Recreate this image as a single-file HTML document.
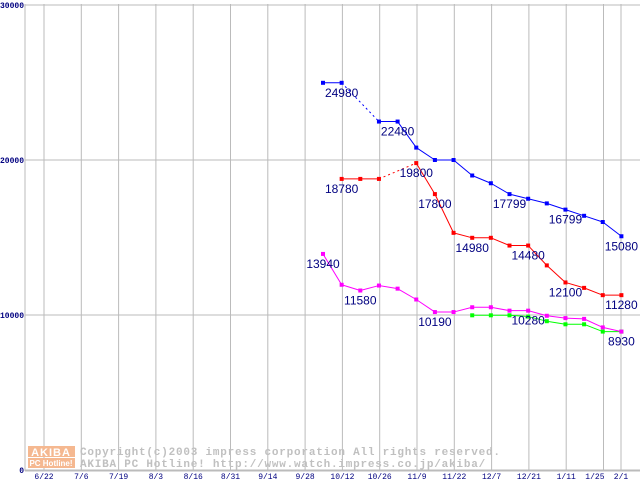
<!DOCTYPE html>
<html><head><meta charset="utf-8"><style>
body{margin:0;background:#fff;width:640px;height:480px;overflow:hidden}
svg{display:block}
</style></head><body>
<svg id="chart" width="640" height="480" xmlns="http://www.w3.org/2000/svg" font-family="'Liberation Mono', monospace">
<g id="grid"></g>
<g id="logo">
<rect x="28" y="446" width="47" height="11" fill="#f5b890"/>
<text x="51" y="456" font-size="11" fill="#fff" text-anchor="middle" font-family="'Liberation Sans',sans-serif" font-weight="bold" letter-spacing="1">AKIBA</text>
<rect x="28" y="458" width="47" height="10" fill="#f5b890"/>
<text x="51" y="466" font-size="8" fill="#fff" text-anchor="middle" font-family="'Liberation Sans',sans-serif" font-weight="bold">PC Hotline!</text>
</g>
<text x="80" y="455" font-size="11" fill="#c0c0c0" font-weight="bold" letter-spacing="0.78">Copyright(c)2003 impress corporation All rights reserved.</text>
<text x="80" y="467" font-size="11" fill="#c0c0c0" font-weight="bold" letter-spacing="0.78">AKIBA PC Hotline!  http://www.watch.impress.co.jp/akiba/</text>
<g id="axes"></g>
<g id="series"></g>
</svg>
<script>
const xLabels=["6/22","7/6","7/19","8/3","8/16","8/31","9/14","9/28","10/12","10/26","11/9","11/22","12/7","12/21","1/11","1/25","2/1"];
const yTicks=[0,10000,20000,30000];
const blue=[24980,24980,null,22480,22480,20800,20000,20000,19000,18500,17799,17500,17200,16799,16400,16000,15080];
const red=[null,18780,18780,18780,null,19800,17800,15300,14980,14980,14480,14480,13200,12100,11750,11280,11280];
const magenta=[13940,11950,11580,11900,11700,11000,10190,10190,10500,10500,10280,10280,9950,9800,9750,9200,8930];
const green=[null,null,null,null,null,null,null,null,9980,9980,9980,9900,9600,9400,9400,8930,8930];
const labels=[["blue",1,"24980"],["blue",4,"22480"],["red",5,"19800"],["red",1,"18780"],["red",6,"17800"],["red",8,"14980"],["blue",10,"17799"],["blue",13,"16799"],["blue",16,"15080"],["red",11,"14480"],["red",13,"12100"],["red",16,"11280"],["magenta",0,"13940"],["magenta",2,"11580"],["magenta",6,"10190"],["magenta",11,"10280"],["green",16,"8930"]];
const NS="http://www.w3.org/2000/svg";
const X0=323,DX=18.65;
function xs(i){return X0+DX*i;}
function ys(v){return 470-v*0.0155;}
function mk(tag,at,parent){const e=document.createElementNS(NS,tag);for(const k in at)e.setAttribute(k,at[k]);parent.appendChild(e);return e;}
const grid=document.getElementById('grid'),axes=document.getElementById('axes'),ser=document.getElementById('series');
yTicks.forEach(v=>{const l=mk('line',{x1:25,x2:640,y1:ys(v),y2:ys(v),stroke:'#bbb','stroke-width':1},grid);


const t=mk('text',{x:24,y:ys(v)+3,'font-size':8,fill:'#000080','text-anchor':'end','font-weight':'bold'},axes);t.textContent=v;

});
for(let k=0;k<17;k++){const gx=k<16?44+37.3*k:621;
const l=mk('line',{x1:gx,x2:gx,y1:4,y2:471,stroke:'#bbb','stroke-width':1},grid);


const t=mk('text',{x:gx-(k==15?-1:0),y:479,'font-size':8,fill:'#000080','text-anchor':k==15?'end':'middle'},axes);t.textContent=xLabels[k];

}
const ax=mk('line',{x1:25,x2:25,y1:4,y2:471,stroke:'#bbb'},axes);


const bx=mk('line',{x1:25,x2:640,y1:471,y2:471,stroke:'#bbb'},axes);


const S={blue:[blue,'#0000ff'],red:[red,'#ff0000'],magenta:[magenta,'#ff00ff'],green:[green,'#00ff00']};
function draw(name,arr,col){
 const g=mk('g',{},ser);
 
 
 let prev=-1;
 for(let i=0;i<arr.length;i++){if(arr[i]==null)continue;
  if(prev>=0){const dashed=i-prev>1;
   const l=mk('line',{x1:xs(prev),y1:ys(arr[prev]),x2:xs(i),y2:ys(arr[i]),stroke:col,'stroke-width':1,'stroke-dasharray':dashed?'2,3':'none'},g);
   
   }
  prev=i;}
 for(let i=0;i<arr.length;i++){if(arr[i]==null)continue;
  const r=mk('rect',{x:xs(i)-2,y:ys(arr[i])-2,width:4,height:4,fill:col},g);
  
  }
}
draw('green',green,'#00ff00');draw('magenta',magenta,'#ff00ff');draw('red',red,'#ff0000');draw('blue',blue,'#0000ff');
labels.forEach(([s,i,txt])=>{const v=S[s][0][i];
 const t=mk('text',{x:xs(i),y:ys(v)+14,'font-size':12,fill:'#000080','text-anchor':'middle','font-family':"'Liberation Sans',sans-serif"},ser);
 t.textContent=txt;
 
 });
</script>
</body></html>
